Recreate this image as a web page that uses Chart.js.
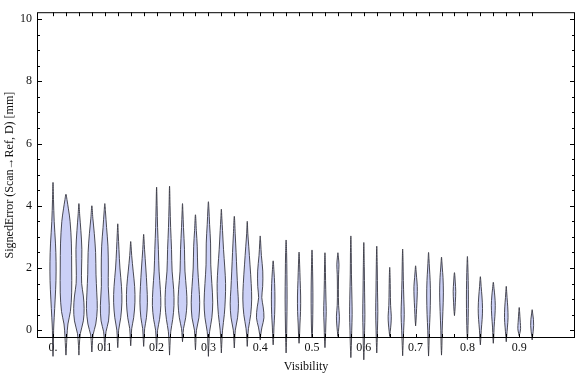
<!DOCTYPE html>
<html>
<head>
<meta charset="utf-8">
<script src="https://cdn.jsdelivr.net/npm/chart.js@4.4.0/dist/chart.umd.min.js"></script>
<style>
  html, body { margin: 0; padding: 0; background: #fff; }
  #wrap { width: 576px; height: 377px; }
</style>
</head>
<body>
<div id="wrap"><canvas id="violins" width="576" height="377"></canvas></div>
<script>
/* categories: visibility bins */
var positions = [0, 0.025, 0.05, 0.075, 0.1, 0.125, 0.15, 0.175, 0.2, 0.225,
                 0.25, 0.275, 0.3, 0.325, 0.35, 0.375, 0.4, 0.425, 0.45, 0.475,
                 0.5, 0.525, 0.55, 0.575, 0.6, 0.625, 0.65, 0.675, 0.7, 0.725,
                 0.75, 0.775, 0.8, 0.825, 0.85, 0.875, 0.9, 0.925];

/* lowest / highest signed error in each bin [mm] */
var lows = [-0.84, -0.8, -0.8, -0.7, -0.65, -0.56, -0.5, -0.52, -0.6, -0.8,
            -0.37, -0.63, -0.84, -0.73, -0.57, -0.52, -0.31, -0.47, -0.73, -0.42,
            -0.25, -0.56, -0.2, -0.88, -0.95, -0.73, -0.2, -0.82, 0.14, -0.83,
            -0.8, 0.47, -0.3, -0.47, -0.42, -0.37, -0.18, -0.31];
var highs = [4.75, 4.37, 4.07, 4.0, 4.07, 3.42, 2.85, 3.08, 4.6, 4.63,
             4.07, 3.71, 4.13, 3.89, 3.66, 3.5, 3.03, 2.23, 2.9, 2.51,
             2.58, 2.49, 2.49, 3.03, 2.82, 2.7, 2.02, 2.61, 2.07, 2.5,
             2.35, 1.85, 2.37, 1.72, 1.54, 1.41, 0.73, 0.66];

/* density profile of each bin: [error level, relative density] */
var densities = [
  [[-0.5,0.4],[0,0.6],[0.4,1.2],[1,2.2],[1.6,3],[2.2,3.1],[2.8,2.5],[3.5,1.2],[4.2,0.5]],
  [[-0.6,0.4],[-0.2,1],[0.2,2],[0.6,4.5],[1.2,5.8],[2,5.8],[2.8,5.5],[3.5,4.2],[3.9,2.5],[4.2,1]],
  [[-0.5,0.4],[-0.1,1.5],[0.3,4.5],[0.7,5.3],[1.1,4.5],[1.5,2.8],[2,2.7],[2.6,3],[3.2,2],[3.7,0.8]],
  [[-0.5,0.4],[-0.15,1.2],[0.2,4],[0.7,5.5],[1.2,5],[1.8,4.2],[2.5,3.8],[3.1,2.5],[3.6,1]],
  [[-0.4,0.4],[-0.05,1.2],[0.3,3.8],[0.8,4.5],[1.4,3.5],[2,3.6],[2.7,3.2],[3.3,1.8],[3.8,0.7]],
  [[-0.35,0.4],[0,0.9],[0.4,3],[0.9,4.2],[1.4,3.8],[2,2.2],[2.6,1.2],[3.1,0.5]],
  [[-0.3,0.4],[0.05,1],[0.4,3],[0.9,4.3],[1.4,4],[1.9,2.5],[2.4,1],[2.7,0.4]],
  [[-0.3,0.4],[0.05,1],[0.4,2.8],[0.9,3.8],[1.4,3.3],[2,2.2],[2.6,0.9],[2.9,0.4]],
  [[-0.4,0.4],[0,1],[0.35,3],[0.8,4.3],[1.3,3.8],[1.9,2.5],[2.6,1.8],[3.3,1],[4,0.5]],
  [[-0.5,0.4],[-0.05,1.2],[0.35,3.2],[0.8,4.5],[1.3,4.2],[1.9,2.6],[2.6,2],[3.3,1.1],[4,0.5]],
  [[-0.2,0.4],[0.05,1],[0.4,3.2],[0.85,4.5],[1.3,4],[1.9,2.5],[2.6,2],[3.3,1],[3.8,0.4]],
  [[-0.4,0.4],[0,1],[0.4,3.5],[0.9,4.3],[1.4,3.5],[2,2.3],[2.7,1.8],[3.2,0.9]],
  [[-0.5,0.4],[-0.05,1.2],[0.4,3.5],[0.9,4.4],[1.5,3.5],[2.1,2.4],[2.8,2.2],[3.4,1.2],[3.9,0.5]],
  [[-0.45,0.4],[0,1.2],[0.5,3],[1,4],[1.5,4.3],[2,3.5],[2.6,2.2],[3.2,1.2],[3.6,0.5]],
  [[-0.35,0.4],[0,1],[0.4,3.3],[0.85,4.2],[1.3,3.5],[1.9,2.6],[2.5,1.8],[3.1,0.9]],
  [[-0.3,0.4],[0.05,1.2],[0.5,3.5],[1,4.5],[1.5,4],[2.1,2.8],[2.7,1.5],[3.1,0.6]],
  [[-0.15,0.5],[0.1,1.8],[0.4,3.8],[0.75,3],[1.05,1.6],[1.4,2.5],[1.9,2.6],[2.4,1.2],[2.8,0.5]],
  [[-0.3,0.4],[0.1,0.8],[0.5,1.5],[1,1.8],[1.5,1.5],[1.9,0.8]],
  [[-0.4,0.4],[0.2,0.7],[1,1],[1.8,0.8],[2.5,0.5]],
  [[-0.25,0.4],[0.2,0.9],[0.6,1.5],[1.1,1.6],[1.6,1.1],[2.1,0.6]],
  [[-0.1,0.4],[0.5,0.8],[1.2,0.9],[1.9,0.6]],
  [[-0.35,0.4],[0.2,0.9],[0.6,1.3],[1,1],[1.6,0.6],[2.1,0.4]],
  [[-0.05,0.5],[0.2,1.2],[0.45,1.5],[0.8,0.7],[1.3,0.5],[1.8,0.7],[2.1,1.1],[2.35,0.5]],
  [[-0.5,0.5],[0,0.9],[0.5,1.3],[1,1.1],[1.8,0.6],[2.5,0.4]],
  [[-0.5,0.5],[0,0.8],[0.5,1.1],[1.2,0.8],[2,0.5]],
  [[-0.4,0.4],[0,0.7],[0.6,1.1],[1.2,0.8],[2,0.5]],
  [[-0.05,0.5],[0.2,1.3],[0.45,1.6],[0.8,0.9],[1.3,0.6],[1.7,0.4]],
  [[-0.5,0.4],[0,1],[0.5,1.6],[1,1.2],[1.6,0.7],[2.2,0.4]],
  [[0.3,0.4],[0.7,1],[1.1,1.6],[1.4,1.7],[1.7,1],[1.9,0.5]],
  [[-0.5,0.4],[0,0.8],[0.5,1.5],[1.1,1.9],[1.6,1.6],[2,0.9],[2.3,0.4]],
  [[-0.5,0.4],[0,0.7],[0.6,1.4],[1.2,1.9],[1.7,1.5],[2,0.8],[2.2,0.4]],
  [[0.6,0.4],[0.9,0.9],[1.25,1.3],[1.55,0.8],[1.75,0.4]],
  [[-0.1,0.4],[0.4,0.8],[1,1],[1.6,0.8],[2.1,0.4]],
  [[-0.3,0.4],[0,0.9],[0.35,1.8],[0.7,2.2],[1.1,1.6],[1.4,0.8],[1.6,0.4]],
  [[-0.25,0.4],[0.1,0.8],[0.45,1.6],[0.8,2],[1.1,1.5],[1.35,0.7]],
  [[-0.2,0.4],[0.1,1.2],[0.4,1.8],[0.75,1.5],[1.05,0.8],[1.25,0.4]],
  [[-0.1,0.6],[0.05,1.4],[0.25,1.1],[0.45,0.7],[0.6,0.4]],
  [[-0.2,0.4],[-0.05,1],[0.15,1.5],[0.35,1.3],[0.55,0.5]]
];

/* tick labels */
var xLabelValues = [0, 0.1, 0.2, 0.3, 0.4, 0.5, 0.6, 0.7, 0.8, 0.9];
var yLabelValues = [0, 2, 4, 6, 8, 10];

// half width of one density unit, in visibility units
var widthScale = 0.0019;
var serif = 'Liberation Serif';

var outline = function(center, low, high, profile) {
  var pts = [{x: center, y: low}];
  profile.forEach(function(p) {
    pts.push({x: center + p[1] * widthScale, y: p[0]});
  });
  pts.push({x: center, y: high});
  for (var i = profile.length - 1; i >= 0; i--) {
    pts.push({x: center - profile[i][1] * widthScale, y: profile[i][0]});
  }
  pts.push({x: center, y: low});
  return pts;
};

var datasets = positions.map(function(c, i) {
  return {
    data: outline(c, lows[i], highs[i], densities[i]),
    showLine: true,
    fill: 'shape',
    backgroundColor: 'rgb(203, 208, 246)',
    borderColor: 'rgba(55, 55, 65, 0.9)',
    borderWidth: 1,
    pointRadius: 0,
    tension: 0.35,
    clip: false
  };
});

/* frame with inward ticks, like the original */
var frameTicks = {
  id: 'frameTicks',
  afterDraw: function(chart) {
    var ctx = chart.ctx, a = chart.chartArea;
    var xs = chart.scales.x, ys = chart.scales.y;
    ctx.save();
    ctx.strokeStyle = '#000';
    ctx.lineWidth = 1;
    ctx.strokeRect(a.left + 0.5, a.top + 0.5, a.right - a.left - 1, a.bottom - a.top - 1);
    ctx.beginPath();
    for (var v = 0; v <= 10; v += 0.5) {
      var py = Math.round(ys.getPixelForValue(v)) + 0.5;
      var len = (v % 2 === 0) ? 5 : 3;
      ctx.moveTo(a.left, py); ctx.lineTo(a.left + len, py);
      ctx.moveTo(a.right, py); ctx.lineTo(a.right - len, py);
    }
    positions.forEach(function(c) {
      var px = Math.round(xs.getPixelForValue(c)) + 0.5;
      ctx.moveTo(px, a.bottom); ctx.lineTo(px, a.bottom - 4);
      ctx.moveTo(px, a.top); ctx.lineTo(px, a.top + 4);
    });
    ctx.stroke();
    ctx.restore();
  }
};

new Chart(document.getElementById('violins'), {
  type: 'scatter',
  data: { datasets: datasets },
  options: {
    responsive: false,
    animation: false,
    devicePixelRatio: 1,
    layout: { padding: { top: 4, right: 1, left: 0, bottom: 0 } },
    elements: { line: { capBezierPoints: false } },
    plugins: {
      legend: { display: false },
      tooltip: { enabled: false }
    },
    scales: {
      x: {
        type: 'linear',
        min: -0.0309,
        max: 1.0077,
        afterBuildTicks: function(s) {
          s.ticks = xLabelValues.map(function(v) { return {value: v}; });
        },
        afterFit: function(s) { s.height = 39; },
        grid: { display: false, drawTicks: false },
        border: { display: false },
        ticks: {
          padding: 3,
          maxRotation: 0,
          autoSkip: false,
          color: '#111',
          font: { family: serif, size: 12 },
          callback: function(v) { return v === 0 ? '0.' : v.toFixed(1); }
        },
        title: {
          display: true,
          text: 'Visibility',
          color: '#111',
          font: { family: serif, size: 12 },
          padding: { top: 0, bottom: 3 }
        }
      },
      y: {
        min: -0.25,
        max: 10.22,
        afterBuildTicks: function(s) {
          s.ticks = yLabelValues.map(function(v) { return {value: v}; });
        },
        afterFit: function(s) { s.width = 37; },
        grid: { display: false, drawTicks: false },
        border: { display: false },
        ticks: {
          padding: 5,
          color: '#111',
          font: { family: serif, size: 12 }
        },
        title: {
          display: true,
          text: 'SignedError (Scan\u2192Ref, D) [mm]',
          color: '#111',
          font: { family: serif, size: 12 },
          padding: { top: 3, bottom: 0 }
        }
      }
    }
  },
  plugins: [frameTicks]
});
</script>
</body>
</html>
